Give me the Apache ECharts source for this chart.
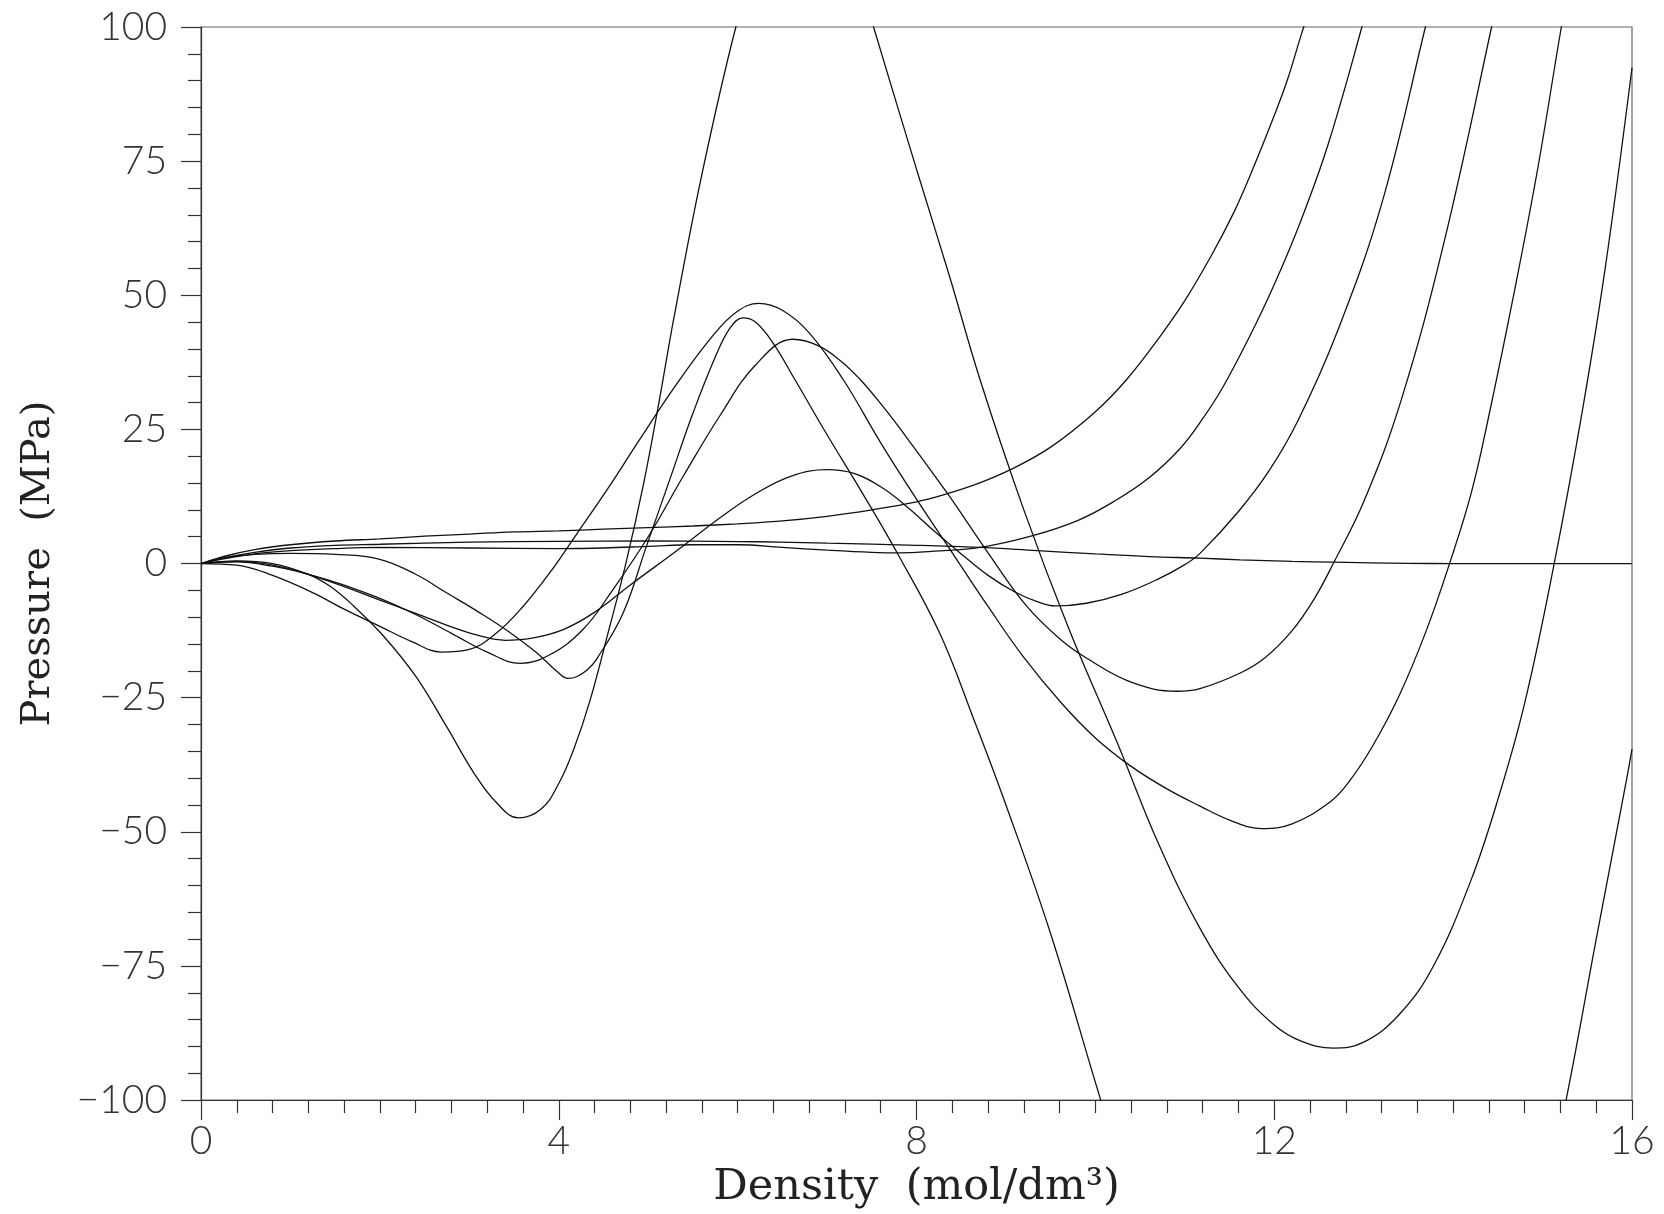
<!DOCTYPE html>
<html>
<head>
<meta charset="utf-8">
<script src="https://cdn.jsdelivr.net/npm/echarts@6/dist/echarts.min.js"></script>
<style>
html,body{margin:0;padding:0;background:#fff;}
#chart{width:1664px;height:1214px;}
</style>
</head>
<body>
<div id="chart"></div>
<script>
// Axis settings
const xTicks = [0, 4, 8, 12, 16];
const yTicks = [-100, -75, -50, -25, 0, 25, 50, 75, 100];

// Isotherms: [density (mol/dm3), pressure (MPa)]
const curveA = [[0,0],[0.3,1.5],[0.6,2.6],[1.0,3.5],[1.5,4.2],[2.0,4.6],[2.5,5.1],[3.0,5.5],[3.5,5.9],[4.0,6.1],[4.5,6.4],[5.0,6.7],[5.5,7.0],[6.0,7.4],[6.47,7.9],[7.0,8.8],[7.5,10],[8.0,11.5],[8.3,12.8],[8.7,15],[9.05,17.5],[9.5,21.7],[10.0,28.3],[10.35,34.3],[10.7,41.8],[11.0,49],[11.3,57.5],[11.55,65.5],[11.73,72.3],[12.0,83.5],[12.15,90.3],[12.31,99],[12.45,106]];
const curveB = [[0,0],[0.3,1.2],[0.6,2.1],[1.0,2.9],[1.5,3.4],[2.0,3.6],[3.0,4.0],[4.0,4.15],[5.0,4.2],[6.0,4.1],[6.47,4.0],[7.0,3.8],[8.0,3.4],[8.7,3.0],[9.35,2.4],[10.0,1.8],[10.6,1.3],[11.17,1.0],[11.62,0.7],[12.2,0.4],[12.66,0.25],[13.5,0.05],[14.0,0],[16,0]];
const curveC = [[0,0],[0.3,1.0],[0.6,1.8],[1.0,2.4],[1.5,2.8],[2.0,3.0],[3.0,2.9],[4.0,2.8],[4.5,2.9],[5.0,3.2],[5.5,3.5],[6.0,3.5],[6.5,3.0],[7.0,2.5],[7.5,2.1],[7.8,2.0],[8.2,2.3],[8.71,3.0],[9.3,5.2],[9.8,8],[10.2,11.5],[10.6,16],[10.95,21.5],[11.2,27],[11.43,33],[11.73,42.5],[12.0,52],[12.3,64],[12.6,78],[12.98,100],[13.1,108]];
const curveT1 = [[0,0],[0.4,0.5],[0.8,0],[1.2,-2],[1.44,-4.2],[1.7,-7.8],[2.04,-13.5],[2.4,-21],[2.75,-30.5],[3.05,-39],[3.3,-44.5],[3.55,-47.4],[3.8,-45.8],[4.0,-41],[4.17,-34.5],[4.35,-25.5],[4.55,-13],[4.75,0],[4.95,15],[5.12,30],[5.29,46],[5.6,72.5],[5.98,100],[6.3,118],[6.8,128],[7.2,118],[7.52,100],[8.0,73.5],[8.37,53.5],[8.71,34.3],[9.2,10],[9.7,-12],[10.26,-34],[10.7,-52],[11.17,-68],[11.6,-79],[12.0,-86],[12.3,-89],[12.66,-90.3],[13.0,-89.2],[13.4,-84],[13.78,-75],[14.2,-59],[14.5,-44],[14.8,-26],[15.13,0],[15.44,28],[15.7,55],[16,92.4]];
const curveT2 = [[0,0],[0.3,1.2],[0.6,1.7],[1.0,1.9],[1.5,1.7],[2.0,0.8],[2.4,-2],[2.75,-5.5],[3.1,-9],[3.45,-12.8],[3.75,-16.6],[4.0,-20.4],[4.1,-21.4],[4.2,-21.1],[4.32,-19.8],[4.42,-17.9],[4.72,-9.2],[4.98,3.2],[5.24,15.6],[5.5,28],[5.75,38.5],[5.92,44],[6.06,45.8],[6.2,45],[6.4,41],[6.64,34.3],[7.0,24],[7.4,13],[7.8,1.5],[8.26,-13],[8.64,-29],[9.0,-45],[9.5,-69],[10.06,-100],[10.4,-118],[15.1,-112],[15.27,-99.4],[15.6,-70],[15.94,-40.2],[16,-34.6]];
const curveT3 = [[0,0],[0.4,-0.3],[0.8,-2.2],[1.26,-5.5],[1.6,-8.5],[2.0,-11.7],[2.35,-14.5],[2.69,-16.5],[3.0,-16],[3.3,-13],[3.6,-8],[3.9,-1.7],[4.2,5.5],[4.55,14],[4.9,23],[5.3,33],[5.7,42],[5.98,46.8],[6.24,48.5],[6.5,47.2],[6.8,43],[7.18,34.3],[7.6,22.5],[8.0,12],[8.4,2],[8.8,-8],[9.2,-17.5],[9.62,-26],[10.0,-32.5],[10.4,-37.8],[10.8,-42],[11.17,-45.2],[11.5,-47.8],[11.86,-49.4],[12.2,-48.5],[12.62,-44.5],[12.83,-40.8],[13.1,-34],[13.4,-24.5],[13.7,-12.5],[13.96,0],[14.2,13],[14.39,26.8],[14.7,52],[14.95,74],[15.21,100],[15.3,108]];
const curveT4 = [[0,0],[0.4,0.3],[0.8,-0.5],[1.2,-2],[1.6,-4],[2.0,-6.5],[2.4,-9.5],[2.8,-13],[3.2,-16.5],[3.57,-18.6],[3.9,-17],[4.27,-12.3],[4.6,-5],[5.0,5],[5.4,16.5],[5.8,27.5],[6.2,37],[6.62,41.8],[6.9,40.6],[7.15,37.8],[7.37,34.3],[7.6,29.8],[7.8,25.5],[8.34,13.2],[8.8,2],[9.23,-7.9],[9.6,-14],[9.9,-17.6],[10.4,-22.1],[10.91,-23.8],[11.17,-23.3],[11.62,-20.4],[11.9,-17.5],[12.2,-12.5],[12.45,-6.5],[12.66,0],[13.0,11.5],[13.42,30.5],[13.9,60],[14.43,100],[14.55,110]];
const curveT5 = [[0,0],[0.4,0.4],[0.8,-0.3],[1.2,-2],[1.6,-4.3],[2.0,-6.8],[2.4,-9.3],[2.8,-11.8],[3.1,-13.4],[3.4,-14.3],[3.7,-13.9],[4.05,-12.3],[4.39,-9.2],[4.8,-4],[5.36,2.9],[5.8,8.5],[6.2,13],[6.6,16.3],[7.0,17.5],[7.3,16.8],[7.6,14.3],[7.9,10.5],[8.2,6],[8.5,1.8],[8.8,-2.2],[9.1,-5.3],[9.35,-7.1],[9.55,-7.9],[9.9,-7.4],[10.3,-5.7],[10.7,-2.9],[11.0,-0.2],[11.17,1.9],[11.6,9.7],[11.95,17.5],[12.27,26.8],[12.7,43],[13.2,67],[13.69,100],[13.8,108]];

const curves = [curveA, curveB, curveC, curveT1, curveT2, curveT3, curveT4, curveT5];

const chart = echarts.init(document.getElementById('chart'), null, {renderer: 'canvas'});
const labelFont = {fontFamily: 'Lato', fontWeight: 300, fontSize: 39, color: '#333'};
const fmt = v => (v < 0 ? '\u2212' + Math.abs(v) : String(v));

chart.setOption({
  animation: false,
  backgroundColor: '#fff',
  grid: {left: 201, right: 32, top: 27, bottom: 113, show: true, borderColor: '#666', borderWidth: 1.2, backgroundColor: 'transparent'},
  xAxis: {
    type: 'value', min: xTicks[0], max: xTicks[xTicks.length - 1], interval: 4,
    name: 'Density  (mol/dm\u00b3)', nameLocation: 'middle', nameGap: 58,
    nameTextStyle: {fontFamily: 'DejaVu Serif', fontSize: 43, color: '#222'},
    axisLine: {show: true, onZero: false, lineStyle: {color: '#333', width: 1.2}},
    axisTick: {show: true, inside: false, length: 20, lineStyle: {color: '#333', width: 1.2}},
    minorTick: {show: true, splitNumber: 10, length: 13, lineStyle: {color: '#333', width: 1.2}},
    splitLine: {show: false},
    axisLabel: Object.assign({margin: 22, formatter: fmt}, labelFont)
  },
  yAxis: {
    type: 'value', min: yTicks[0], max: yTicks[yTicks.length - 1], interval: 25,
    name: 'Pressure  (MPa)', nameLocation: 'middle', nameGap: 142,
    nameTextStyle: {fontFamily: 'DejaVu Serif', fontSize: 40, color: '#222'},
    axisLine: {show: true, onZero: false, lineStyle: {color: '#333', width: 1.2}},
    axisTick: {show: true, inside: false, length: 20, lineStyle: {color: '#333', width: 1.2}},
    minorTick: {show: true, splitNumber: 5, length: 13, lineStyle: {color: '#333', width: 1.2}},
    splitLine: {show: false},
    axisLabel: Object.assign({margin: 34, formatter: fmt}, labelFont)
  },
  series: curves.map(d => ({
    type: 'line', data: d, showSymbol: false, smooth: 0.4, clip: true,
    lineStyle: {color: '#111', width: 1.3}
  }))
});
</script>
</body>
</html>
